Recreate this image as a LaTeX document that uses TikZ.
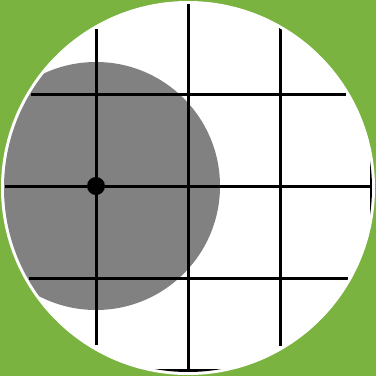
\documentclass[tikz,border=0pt]{standalone}
\definecolor{bggreen}{HTML}{7AB33F}
\definecolor{shade}{HTML}{818181}
\begin{document}
\begin{tikzpicture}[x=1pt,y=-1pt,
  gridline/.style={black,line width=3pt},
  shadedisk/.style={fill=shade},
  centerdot/.style={fill=black}]
\fill[bggreen] (0,0) rectangle (376,376);
\useasboundingbox (0,0) rectangle (376,376);
\fill[white] (188,188) circle[radius=187];
\begin{scope}
\clip (188,188) circle[radius=184];
\fill[shadedisk] (96,186) circle[radius=124];
% inner lines
\draw[gridline] (96,29) -- (96,345);
\draw[gridline] (280,28) -- (280,346);
\draw[gridline] (188,4) -- (188,370);
\draw[gridline] (31,94) -- (346,94);
\draw[gridline] (5,186) -- (371,186);
\draw[gridline] (29,278) -- (348,278);
% partial border
\draw[gridline] (371,0) -- (371,370) -- (0,370);
\end{scope}
\node[circle,centerdot,inner sep=0pt,minimum size=18pt] (c) at (96,186) {};
\end{tikzpicture}
\end{document}
